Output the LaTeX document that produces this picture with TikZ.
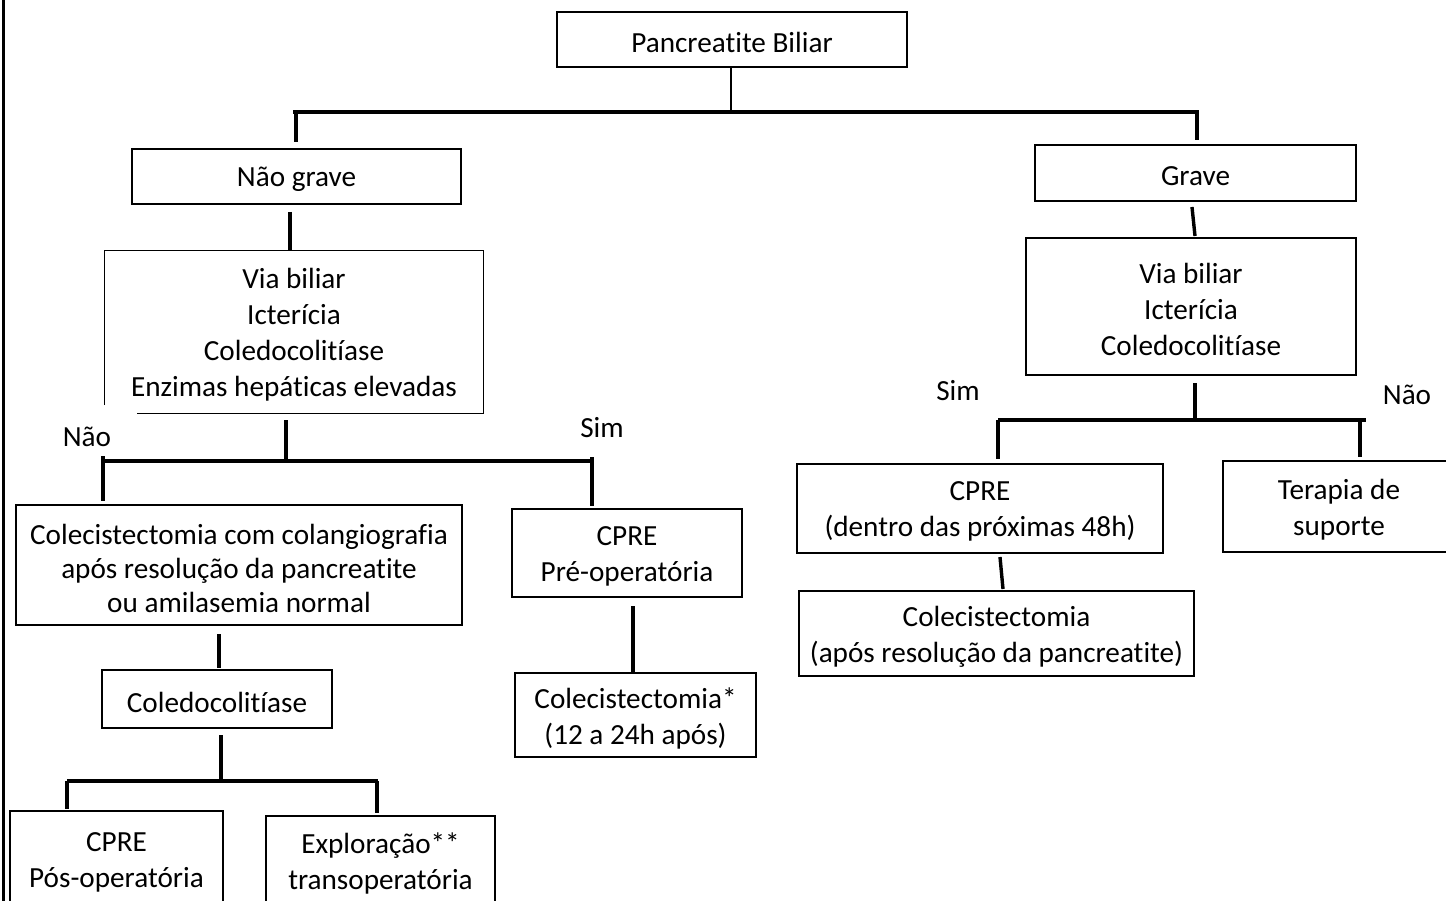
\documentclass[tikz,border=0pt]{standalone}
\usepackage{fontspec}
\setmainfont{Carlito}[Ligatures=NoCommon]
\usetikzlibrary{calc}
% #1 name, #2 center, #3 width, #4 height, #5 text
\newcommand\mybox[5]{%
  \node[frame, minimum width=#3, minimum height=#4] (#1) at #2 {};
  \node[boxtext] (#1-t) at ([yshift=-3pt]#1.center) {#5};}
\begin{document}
\begin{tikzpicture}[x=1pt,y=-1pt,
  txt/.style={font=\fontsize{29.2}{36}\selectfont},
  frame/.style={draw, line width=1.3pt, inner sep=0pt},
  boxtext/.style={txt, align=center, inner sep=0pt},
  conn/.style={line width=3.4pt},
  connthin/.style={line width=2.6pt},
  lbl/.style={txt, inner sep=0pt, anchor=base}]
\useasboundingbox (0,0) rectangle (1446,901);
\fill[white] (0,0) rectangle (1446,901);

% left frame line
\coordinate (frT) at (3.5,0);
\coordinate (frB) at (3.5,901);
\draw[connthin] (frT) -- (frB);

% boxes
\mybox{pb}{(732,39.5)}{350pt}{55pt}{Pancreatite Biliar}
\mybox{ng}{(296.5,176.5)}{329pt}{55pt}{Não grave}
\mybox{gr}{(1195.5,173)}{321pt}{56pt}{Grave}
\node[minimum width=378pt, minimum height=162pt, inner sep=0pt] (vb1) at (294,332) {};
\node[boxtext] (vb1-t) at ([yshift=-3pt]vb1.center)
  {Via biliar\\Icterícia\\Coledocolitíase\\Enzimas hepáticas elevadas};
\draw[line width=1.3pt] ($(vb1.south west)+(0,-8)$) |- (vb1.north east) |- ($(vb1.south west)+(32,0)$);
\mybox{vb2}{(1191,306.5)}{330pt}{137pt}{Via biliar\\Icterícia\\Coledocolitíase}
\mybox{cc}{(239,565)}{446pt}{120pt}{Colecistectomia com colangiografia\\[-2pt]após resolução da pancreatite\\[-2pt]ou amilasemia normal}
\mybox{cpre1}{(627,553)}{230pt}{88pt}{CPRE\\Pré-operatória}
\mybox{c24}{(635.5,715)}{241pt}{84pt}{Colecistectomia*\\(12 a 24h após)}
\mybox{cole}{(217,699)}{230pt}{58pt}{Coledocolitíase}
\mybox{pos}{(116.5,859)}{213pt}{96pt}{CPRE\\Pós-operatória}
\mybox{exp}{(380.5,860)}{229pt}{88pt}{Exploração**\\transoperatória}
\mybox{cpre2}{(980,508.5)}{366pt}{89pt}{CPRE\\(dentro das próximas 48h)}
\mybox{colr}{(996.5,633.5)}{395pt}{85pt}{Colecistectomia\\(após resolução da pancreatite)}
\mybox{ter}{(1339,506.5)}{232pt}{91pt}{Terapia de\\suporte}

% labels
\node[lbl] (nao1) at (87,446) {Não};
\node[lbl] (sim1) at (602,437) {Sim};
\node[lbl] (sim2) at (958,400) {Sim};
\node[lbl] (nao2) at (1407,404) {Não};

% connector points
\coordinate (pbS) at (731,67);
\coordinate (b1C) at (731,112);
\coordinate (b1L) at (293,112);
\coordinate (b1R) at (1199,112);
\coordinate (d1a) at (296,112);
\coordinate (d1b) at (296,142);
\coordinate (d2a) at (1197,112);
\coordinate (d2b) at (1197,140);
\coordinate (ngS) at (290,212);
\coordinate (vb1N) at (290,250);
\coordinate (grS) at (1192,207);
\coordinate (vb2N) at (1195,236);
\coordinate (vb1S) at (286,420);
\coordinate (b2C) at (286,459);
\coordinate (b2L) at (103,461);
\coordinate (b2R) at (592,461);
\coordinate (d3a) at (103,456);
\coordinate (d3b) at (103,501);
\coordinate (d4a) at (592,457);
\coordinate (d4b) at (592,506);
\coordinate (ccS) at (219,634);
\coordinate (coleN) at (219,668);
\coordinate (coleS) at (221,735);
\coordinate (b3C) at (221,779);
\coordinate (b3L) at (67,781);
\coordinate (b3R) at (378,781);
\coordinate (d5b) at (67,809);
\coordinate (d6a) at (377,781);
\coordinate (d6b) at (377,813);
\coordinate (cp1S) at (633,606);
\coordinate (c24N) at (633,672);
\coordinate (vb2S) at (1195,383);
\coordinate (b4C) at (1195,418);
\coordinate (b4L) at (998,420);
\coordinate (b4R) at (1366,420);
\coordinate (d7b) at (998,459);
\coordinate (d8a) at (1360,418);
\coordinate (d8b) at (1360,457);
\coordinate (cp2S) at (1000,557);
\coordinate (colrN) at (1003,589);

% connectors
\draw[connthin] (pbS) -- (b1C);
\draw[conn] (b1L) -- (b1R);
\draw[conn] (d1a) -- (d1b);
\draw[conn] (d2a) -- (d2b);
\draw[conn] (ngS) -- (vb1N);
\draw[conn] (grS) -- (vb2N);
\draw[conn] (vb1S) -- (b2C);
\draw[conn] (b2L) -- (b2R);
\draw[conn] (d3a) -- (d3b);
\draw[conn] (d4a) -- (d4b);
\draw[conn] (ccS) -- (coleN);
\draw[conn] (coleS) -- (b3C);
\draw[conn] (b3L) -- (b3R);
\draw[conn] (b3L) -- (d5b);
\draw[conn] (d6a) -- (d6b);
\draw[conn] (cp1S) -- (c24N);
\draw[conn] (vb2S) -- (b4C);
\draw[conn] (b4L) -- (b4R);
\draw[conn] (b4L) -- (d7b);
\draw[conn] (d8a) -- (d8b);
\draw[conn] (cp2S) -- (colrN);
\end{tikzpicture}
\end{document}
